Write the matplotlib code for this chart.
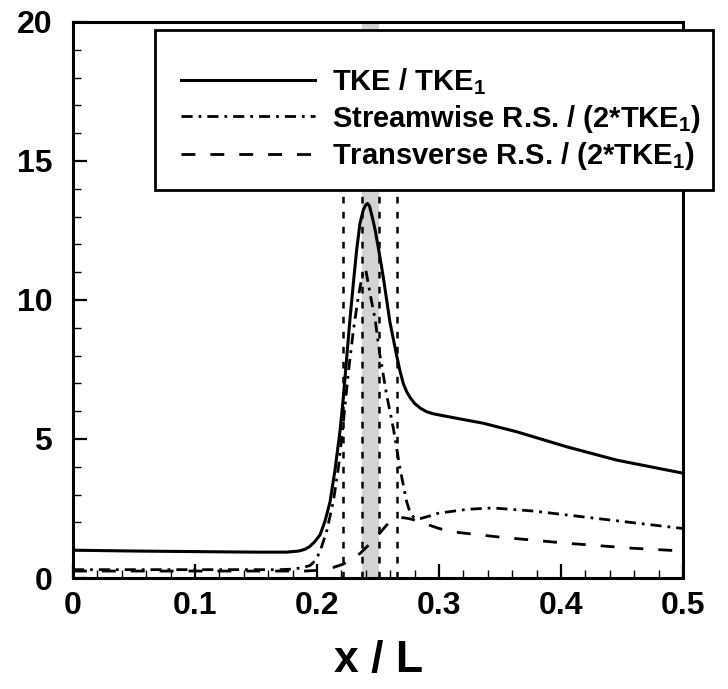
import matplotlib
matplotlib.use("Agg")
import matplotlib.pyplot as plt
from matplotlib.ticker import MultipleLocator, FormatStrFormatter
from matplotlib.patches import Rectangle

plt.rcParams['font.family'] = ['Liberation Sans', 'DejaVu Sans']
plt.rcParams['font.weight'] = 'bold'
plt.rcParams['mathtext.fontset'] = 'custom'
plt.rcParams['mathtext.rm'] = 'Liberation Sans:bold'
plt.rcParams['mathtext.bf'] = 'Liberation Sans:bold'
plt.rcParams['mathtext.default'] = 'bf'
plt.rcParams['lines.scale_dashes'] = False

# Turbulent kinetic energy normalised by the inflow value
x_tke = [0.0, 0.05, 0.10, 0.15, 0.175, 0.185, 0.190, 0.194, 0.198, 0.2025,
         0.2066, 0.2107, 0.2148, 0.2189, 0.2216, 0.2243, 0.2270, 0.2298,
         0.2325, 0.2352, 0.2380, 0.2400, 0.2415, 0.2430, 0.2455, 0.2475,
         0.2510, 0.2544, 0.2598, 0.2653, 0.2680, 0.2707, 0.2735, 0.2765,
         0.2800, 0.2850, 0.2899, 0.2950, 0.3008, 0.3200, 0.3360, 0.3637,
         0.4047, 0.4457, 0.5]
y_tke = [1.00, 0.97, 0.95, 0.93, 0.93, 0.97, 1.03, 1.13, 1.30, 1.55,
         2.05, 2.74, 3.90, 5.30, 6.50, 7.90, 9.30, 10.60,
         11.80, 12.75, 13.25, 13.42, 13.47, 13.38, 12.95, 12.55,
         11.70, 10.80, 9.20, 8.00, 7.45, 7.00, 6.70, 6.48,
         6.28, 6.10, 5.98, 5.91, 5.86, 5.70, 5.57, 5.26,
         4.72, 4.24, 3.77]

# Streamwise Reynolds stress / (2*TKE_1)
x_rs_stream = [0.0, 0.10, 0.17, 0.180, 0.188, 0.1943, 0.1985, 0.2025, 0.2080,
               0.2134, 0.2175, 0.2216, 0.2257, 0.2298, 0.2338, 0.2355, 0.2370,
               0.2385, 0.2400, 0.2420, 0.2445, 0.2475, 0.2516, 0.2571, 0.2626,
               0.2680, 0.2735, 0.2760, 0.2785, 0.2810, 0.2850, 0.2899, 0.2995,
               0.3227, 0.3440, 0.3770, 0.4180, 0.4590, 0.5]
y_rs_stream = [0.30, 0.30, 0.30, 0.32, 0.37, 0.45, 0.62, 0.95, 1.70,
               2.75, 3.95, 5.60, 7.40, 8.90, 10.10, 10.50, 10.85,
               11.05, 11.08, 10.60, 10.00, 9.34, 8.02, 6.58, 5.38,
               3.95, 2.74, 2.40, 2.22, 2.14, 2.14, 2.20, 2.33,
               2.47, 2.52, 2.41, 2.20, 1.99, 1.78]

# Transverse Reynolds stress / (2*TKE_1)
x_rs_trans = [0.0, 0.10, 0.19, 0.2025, 0.2134, 0.2216, 0.2300, 0.2352, 0.2380,
              0.2450, 0.2516, 0.2570, 0.2626, 0.2670, 0.2707, 0.2760, 0.2817,
              0.2900, 0.2995, 0.3090, 0.3500, 0.4047, 0.4590, 0.5]
y_rs_trans = [0.25, 0.25, 0.25, 0.28, 0.38, 0.50, 0.72, 0.88, 1.00,
              1.30, 1.62, 1.90, 2.09, 2.16, 2.17, 2.13, 2.07,
              1.93, 1.79, 1.67, 1.47, 1.25, 1.07, 0.97]

# Reference stations marked on the x axis
x_band = (0.2366, 0.2510)
x_marks = [0.2216, 0.2366, 0.2508, 0.2658]

labels = ['TKE / TKE$_1$',
          'Streamwise R.S. / (2*TKE$_1$)',
          'Transverse R.S. / (2*TKE$_1$)']

fig = plt.figure(figsize=(7.28, 6.89), dpi=100)
ax = fig.add_axes([73 / 728, 111 / 689, 610 / 728, 556 / 689])

ax.axvspan(x_band[0], x_band[1], color='#d3d3d3', lw=0, zorder=0)
for xm in x_marks:
    ax.axvline(xm, color='black', lw=1.8, dashes=(4.8, 6.0), zorder=3)

l1, = ax.plot(x_tke, y_tke, color='black', lw=2.2, zorder=4)
l2, = ax.plot(x_rs_stream, y_rs_stream, color='black', lw=2.0,
              dashes=(8, 4.3, 2, 4.3), zorder=4)
l3, = ax.plot(x_rs_trans, y_rs_trans, color='black', lw=2.0,
              dashes=(10, 10.8), zorder=4)

ax.set_xlim(0, 0.5)
ax.set_ylim(0, 20)
ax.xaxis.set_major_locator(MultipleLocator(0.1))
ax.xaxis.set_minor_locator(MultipleLocator(0.02))
ax.yaxis.set_major_locator(MultipleLocator(5))
ax.yaxis.set_minor_locator(MultipleLocator(1))
ax.xaxis.set_major_formatter(FormatStrFormatter('%g'))
ax.yaxis.set_major_formatter(FormatStrFormatter('%g'))

ax.tick_params(which='both', direction='in', top=False, right=False)
ax.tick_params(which='major', length=10, width=1.6)
ax.tick_params(which='minor', length=5.8, width=1.0)
ax.tick_params(axis='x', which='major', labelsize=23, pad=9)
ax.tick_params(axis='y', which='major', labelsize=23, pad=15)
for s in ax.spines.values():
    s.set_linewidth(2.2)

ax.set_xlabel('x / L', fontsize=32, fontweight='bold', labelpad=14)

# Legend box (extends past the right edge of the axes)
box = Rectangle((154.7 / 728, 1 - 190 / 689), (713 - 154.7) / 728, 160 / 689,
                transform=fig.transFigure, facecolor='white',
                edgecolor='black', lw=2.0, zorder=9, clip_on=False)
ax.add_patch(box)

leg = ax.legend([l1, l2, l3], labels, loc='upper left',
                bbox_to_anchor=(181 / 728, 1 - 66 / 689),
                bbox_transform=fig.transFigure,
                fontsize=21, frameon=False,
                borderpad=0.0, handlelength=4.6, handletextpad=0.57,
                labelspacing=0.2, borderaxespad=0)
leg.set_zorder(10)

fig.savefig('out.png', dpi=100)
